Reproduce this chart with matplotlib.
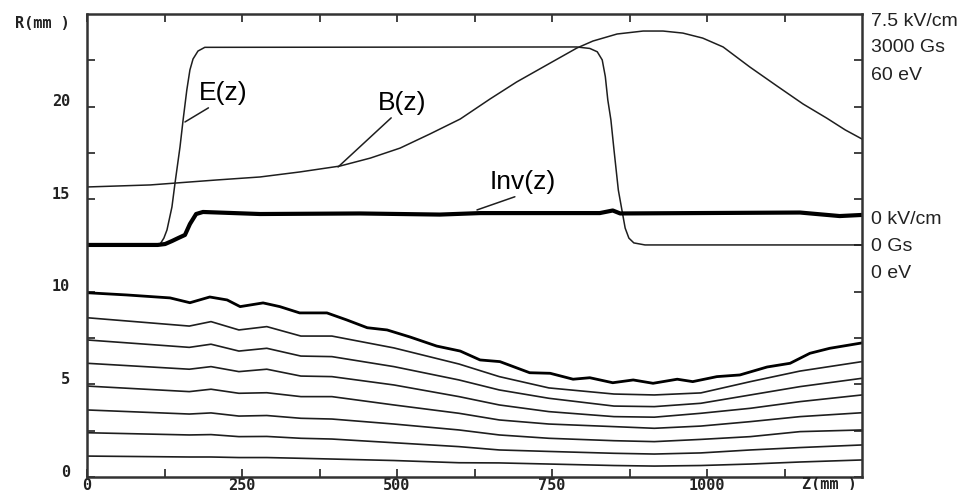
import numpy as np
import matplotlib
matplotlib.use("Agg")
import matplotlib.pyplot as plt
from matplotlib.transforms import ScaledTranslation

# field curves (drawn in R units of the same axes)
e_z = [0, 113, 118, 124, 129, 137, 142, 150, 155, 161, 166, 171, 179, 190, 790, 811, 823, 831, 836, 840, 845, 850,
       857, 868, 874, 882, 900, 1250]
e_r = [12.53, 12.53, 12.58, 12.9, 13.34, 14.58, 15.88, 17.82, 19.28, 20.9, 21.98, 22.57, 23.0, 23.2, 23.22, 23.14,
       22.96, 22.52, 21.62, 20.36, 19.28, 17.66, 15.49, 13.44, 12.9, 12.64, 12.53, 12.53]

b_z = [0, 102, 210, 279, 343, 408, 457, 505, 553, 602, 650, 693, 747, 790, 816, 855, 897, 929, 961, 993, 1026, 1069,
       1113, 1155, 1193, 1223, 1250]
b_r = [15.66, 15.77, 16.04, 16.2, 16.47, 16.79, 17.22, 17.76, 18.52, 19.33, 20.41, 21.33, 22.35, 23.16, 23.54, 23.92,
       24.08, 24.08, 23.97, 23.70, 23.22, 22.14, 21.11, 20.14, 19.38, 18.74, 18.25]

inv_z = [0, 114, 126, 137, 147, 158, 166, 176, 187, 279, 440, 569, 634, 827, 848, 860, 1150, 1214, 1250]
inv_r = [12.53, 12.53, 12.58, 12.74, 12.9, 13.07, 13.66, 14.2, 14.31, 14.2, 14.23, 14.17, 14.25, 14.25, 14.39, 14.23,
         14.28, 14.09, 14.15]

# outermost trajectory
top_z = [0, 64, 134, 166, 198, 226, 247, 284, 311, 343, 387, 419, 452, 484, 521, 564, 602, 634, 666, 714, 747, 784,
         811, 848, 881, 913, 952, 977, 1016, 1053, 1097, 1134, 1166, 1198, 1250]
top_r = [9.95, 9.83, 9.67, 9.41, 9.72, 9.56, 9.2, 9.4, 9.2, 8.86, 8.86, 8.48, 8.06, 7.94, 7.56, 7.07, 6.8, 6.32, 6.23,
         5.63, 5.6, 5.28, 5.36, 5.09, 5.24, 5.06, 5.28, 5.15, 5.42, 5.51, 5.94, 6.14, 6.68, 6.95, 7.24]

# inner trajectories
traj_z = [0, 165, 200, 245, 290, 345, 395, 495, 600, 665, 745, 850, 915, 990, 1070, 1150, 1250]
traj_r = [
    [8.60, 8.15, 8.39, 7.94, 8.12, 7.61, 7.61, 6.97, 6.10, 5.42, 4.81, 4.48, 4.43, 4.54, 5.15, 5.72, 6.23],
    [7.40, 7.00, 7.17, 6.80, 6.95, 6.53, 6.50, 5.96, 5.24, 4.70, 4.25, 3.83, 3.80, 3.98, 4.43, 4.88, 5.33],
    [6.14, 5.82, 5.96, 5.69, 5.82, 5.45, 5.42, 4.97, 4.34, 3.89, 3.53, 3.26, 3.23, 3.44, 3.71, 4.07, 4.43],
    [4.91, 4.61, 4.74, 4.52, 4.55, 4.34, 4.34, 3.89, 3.44, 3.08, 2.86, 2.72, 2.63, 2.75, 2.99, 3.26, 3.47],
    [3.62, 3.40, 3.46, 3.29, 3.32, 3.17, 3.13, 2.86, 2.54, 2.27, 2.09, 1.96, 1.91, 2.03, 2.18, 2.45, 2.54],
    [2.39, 2.27, 2.29, 2.18, 2.19, 2.09, 2.05, 1.85, 1.64, 1.46, 1.38, 1.28, 1.24, 1.30, 1.46, 1.59, 1.73],
    [1.13, 1.08, 1.08, 1.05, 1.05, 1.01, 0.97, 0.89, 0.77, 0.76, 0.70, 0.62, 0.59, 0.62, 0.70, 0.81, 0.92],
]

x_ticks = [0, 250, 500, 750, 1000]
y_ticks = [0, 5, 10, 15, 20]
right_top = ["7.5 kV/cm", "3000 Gs", "60 eV"]
right_bottom = ["0 kV/cm", "0 Gs", "0 eV"]

ink = "#1e1e1e"
fig = plt.figure(figsize=(9.68, 4.9), dpi=100)
ax = fig.add_axes([87 / 968, 13 / 490, 775 / 968, 463 / 490])

ax.plot(e_z, e_r, color=ink, lw=1.1)
ax.plot(b_z, b_r, color=ink, lw=1.1)
ax.plot(inv_z, inv_r, color="black", lw=3.0, solid_capstyle="butt")
ax.plot(top_z, top_r, color="black", lw=2.0)
for r in traj_r:
    ax.plot(traj_z, r, color=ink, lw=1.2)

ax.set_xlim(0, 1250)
ax.set_ylim(0, 25)
ax.set_xticks(x_ticks)
ax.set_xticks(np.arange(125, 1250, 125), minor=True)
ax.set_yticks(y_ticks)
ax.set_yticks(np.arange(2.5, 25, 2.5), minor=True)
mono = {"family": "DejaVu Sans Mono", "size": 11, "weight": "bold"}
ax.set_xticklabels([str(t) for t in x_ticks], fontdict=mono, color="#222")
ax.set_yticklabels([str(t) for t in y_ticks], fontdict=mono, color="#222")
ax.tick_params(which="both", direction="in", top=True, right=True, length=6, width=1.3, color="#333")
ax.tick_params(axis="x", pad=1)
ax.tick_params(axis="y", pad=12)
for lab in ax.get_yticklabels():
    lab.set_transform(lab.get_transform() + ScaledTranslation(0, 6.5 / 100, fig.dpi_scale_trans))
for s in ax.spines.values():
    s.set_linewidth(1.8)
    s.set_color("#333")

ax.annotate("R(mm )", xy=(0, 25), xycoords=ax.get_yaxis_transform(), xytext=(-17, -9),
            textcoords="offset pixels", ha="right", va="center", color="#222", **mono)
ax.annotate("Z(mm )", xy=(1198, 0), xycoords="data", xytext=(0, -7),
            textcoords="offset pixels", ha="center", va="center", color="#222",
            annotation_clip=False, **mono)

sans = {"family": "Liberation Sans", "size": 14}
for i, t in enumerate(right_top):
    fig.text(871 / 968, 1 - (21 + 27 * i) / 490, t, ha="left", va="center", color="#222", **sans)
for i, t in enumerate(right_bottom):
    fig.text(871 / 968, 1 - (219 + 27 * i) / 490, t, ha="left", va="center", color="#222", **sans)

big = {"family": "Liberation Sans", "size": 19}
lead = dict(arrowstyle="-", color=ink, lw=1.1, shrinkA=0, shrinkB=0)
ax.annotate("E(z)", xy=(158, 19.17), xytext=(219, 20.73), ha="center", va="center", **big,
            arrowprops=dict(lead, relpos=(0.3, 0)))
ax.annotate("B(z)", xy=(405, 16.74), xytext=(508, 20.19), ha="center", va="center", **big,
            arrowprops=dict(lead, relpos=(0.34, 0)))
ax.annotate("Inv(z)", xy=(629, 14.42), xytext=(703, 15.93), ha="center", va="center", **big,
            arrowprops=dict(lead, relpos=(0.5, 0)))

fig.savefig("out.png", dpi=100)
